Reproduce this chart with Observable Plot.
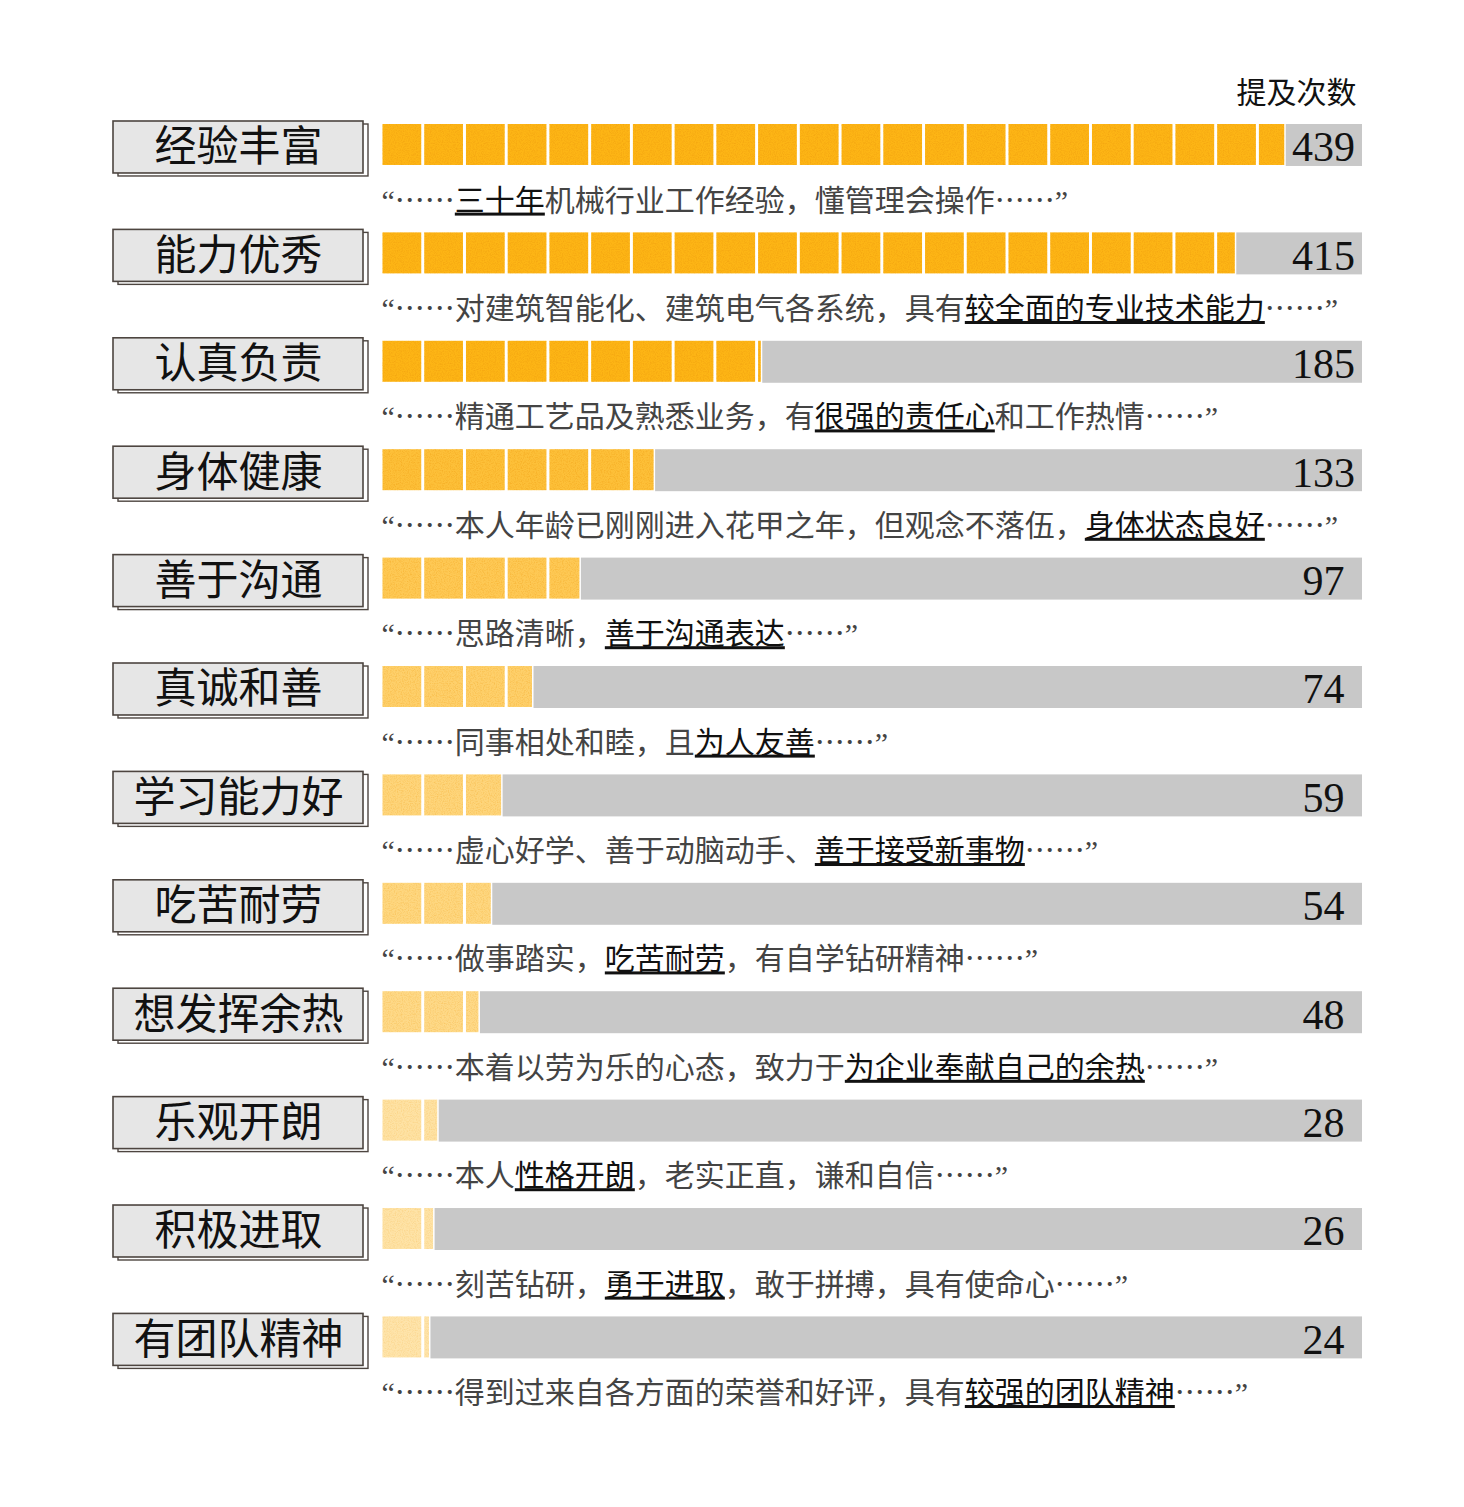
<!DOCTYPE html>
<html>
<head>
<meta charset="utf-8">
<script src="https://cdn.jsdelivr.net/npm/d3@7"></script>
<script src="https://cdn.jsdelivr.net/npm/@observablehq/plot@0.6"></script>
<style>
  html, body { margin: 0; padding: 0; background: #fff; }
  #chart svg { display: block; }
</style>
</head>
<body>
<div id="chart"></div>
<script>
// ---- data ----
const categories = ["经验丰富","能力优秀","认真负责","身体健康","善于沟通","真诚和善","学习能力好","吃苦耐劳","想发挥余热","乐观开朗","积极进取","有团队精神"];
const values = [439, 415, 185, 133, 97, 74, 59, 54, 48, 28, 26, 24];
const quoteBefore = [
  "“……",
  "“……对建筑智能化、建筑电气各系统，具有",
  "“……精通工艺品及熟悉业务，有",
  "“……本人年龄已刚刚进入花甲之年，但观念不落伍，",
  "“……思路清晰，",
  "“……同事相处和睦，且",
  "“……虚心好学、善于动脑动手、",
  "“……做事踏实，",
  "“……本着以劳为乐的心态，致力于",
  "“……本人",
  "“……刻苦钻研，",
  "“……得到过来自各方面的荣誉和好评，具有"
];
const quoteUnderlined = [
  "三十年",
  "较全面的专业技术能力",
  "很强的责任心",
  "身体状态良好",
  "善于沟通表达",
  "为人友善",
  "善于接受新事物",
  "吃苦耐劳",
  "为企业奉献自己的余热",
  "性格开朗",
  "勇于进取",
  "较强的团队精神"
];
const quoteAfter = [
  "机械行业工作经验，懂管理会操作……”",
  "……”",
  "和工作热情……”",
  "……”",
  "……”",
  "……”",
  "……”",
  "，有自学钻研精神……”",
  "……”",
  "，老实正直，谦和自信……”",
  "，敢于拼搏，具有使命心……”",
  "……”"
];
const headerLabel = "提及次数";
const xMax = 476;        // right end of the grey track (scale domain)
const blockSize = 20.25; // counts per yellow block

// ---- derived tables ----
const rows = categories.map((c, i) => ({
  cat: c,
  value: values[i],
  quote: quoteBefore[i] + quoteUnderlined[i] + quoteAfter[i],
  i
}));
const blocks = [];
for (const r of rows) {
  const n = Math.ceil(r.value / blockSize);
  for (let k = 0; k < n; k++) {
    blocks.push({cat: r.cat, value: r.value, x1: k * blockSize, x2: Math.min((k + 1) * blockSize, r.value)});
  }
}

const serif = '"Liberation Serif", "Noto Sans CJK SC", serif';
const cjk = '"Noto Sans CJK SC", sans-serif';

const chart = Plot.plot({
  width: 1464,
  height: 1507,
  marginLeft: 113,
  marginRight: 102,
  marginTop: 70,
  marginBottom: 100,
  x: {domain: [0, xMax], range: [381, 1362], axis: null},
  y: {type: "band", domain: categories, range: [124, 1357.4], paddingInner: 0.622, paddingOuter: 0, align: 0, round: false, axis: null},
  opacity: {type: "sqrt", domain: [0, 185], range: [0, 1], clamp: true},
  style: {background: "#fff"},
  marks: [
    // label box shadow
    Plot.rect(rows, {y: "cat", insetLeft: 5, insetRight: 994, insetTop: 0, insetBottom: -11,
      fill: "#fff", stroke: "#4d4540", strokeWidth: 1.4}),
    // label box
    Plot.rect(rows, {y: "cat", insetLeft: 0, insetRight: 999, insetTop: -3, insetBottom: -8,
      fill: "#e6e6e6", stroke: "#4d4540", strokeWidth: 1.6}),
    Plot.text(rows, {y: "cat", text: "cat", frameAnchor: "left", dx: 125, dy: 3, textAnchor: "middle",
      fontSize: 42, fontFamily: cjk, fill: "#111"}),
    // grey remainder track
    Plot.rect(rows, {x1: "value", x2: () => xMax, y: "cat", fill: "#c8c8c8", insetBottom: -1}),
    // yellow blocks
    Plot.rect(blocks, {x1: "x1", x2: "x2", y: "cat", fill: "#fdb515", fillOpacity: "value",
      insetLeft: 1.5, insetRight: 1.5}),
    // values
    Plot.text(rows, {y: "cat", text: d => String(d.value), frameAnchor: "right", dx: -39, dy: 3,
      textAnchor: "middle", fontSize: 42, fontFamily: serif, fill: "#111"}),
    // quotes
    Plot.text(rows, {y: "cat", x: () => 0, text: "quote", textAnchor: "start", dy: 56,
      fontSize: 30, fontFamily: cjk, fill: "#444"}),
    // header
    Plot.text([headerLabel], {frameAnchor: "top-right", dx: -6, dy: 11, text: d => d,
      textAnchor: "end", fontSize: 30, fontFamily: cjk, fill: "#111"})
  ]
});

const ns = "http://www.w3.org/2000/svg";

// grain texture on the yellow blocks
const defs = document.createElementNS(ns, "defs");
defs.innerHTML = `
<filter id="grain" x="0" y="0" width="100%" height="100%" color-interpolation-filters="sRGB">
  <feTurbulence type="fractalNoise" baseFrequency="0.85" numOctaves="2" seed="7" result="noise"/>
  <feColorMatrix in="noise" type="matrix"
    values="0 0 0 0 0.93  0 0 0 0 0.6  0 0 0 0 0.05  0 0 0 1.1 -0.45" result="spots"/>
  <feComposite in="spots" in2="SourceGraphic" operator="in" result="spotsIn"/>
  <feMerge><feMergeNode in="SourceGraphic"/><feMergeNode in="spotsIn"/></feMerge>
</filter>`;
chart.insertBefore(defs, chart.firstChild);
const rectGroups = chart.querySelectorAll('g[aria-label="rect"]');
if (rectGroups.length >= 4) rectGroups[3].setAttribute("filter", "url(#grain)");

// underline the key phrase inside each quote; western quote marks in serif
const fullQuotes = rows.map(r => r.quote);
chart.querySelectorAll("text").forEach(t => {
  const idx = fullQuotes.indexOf(t.textContent);
  if (idx < 0) return;
  t.textContent = "";
  const add = (s, opts = {}) => {
    if (!s) return;
    const ts = document.createElementNS(ns, "tspan");
    ts.textContent = s;
    if (opts.serif) ts.setAttribute("font-family", serif);
    if (opts.u) {
      ts.setAttribute("text-decoration", "underline");
      ts.setAttribute("fill", "#111");
      ts.style.textDecoration = "underline";
    }
    t.appendChild(ts);
  };
  const before = quoteBefore[idx], after = quoteAfter[idx];
  add(before.slice(0, 1), {serif: true});
  add(before.slice(1));
  add(quoteUnderlined[idx], {u: true});
  add(after.slice(0, -1));
  add(after.slice(-1), {serif: true});
});

document.getElementById("chart").appendChild(chart);
</script>
</body>
</html>
